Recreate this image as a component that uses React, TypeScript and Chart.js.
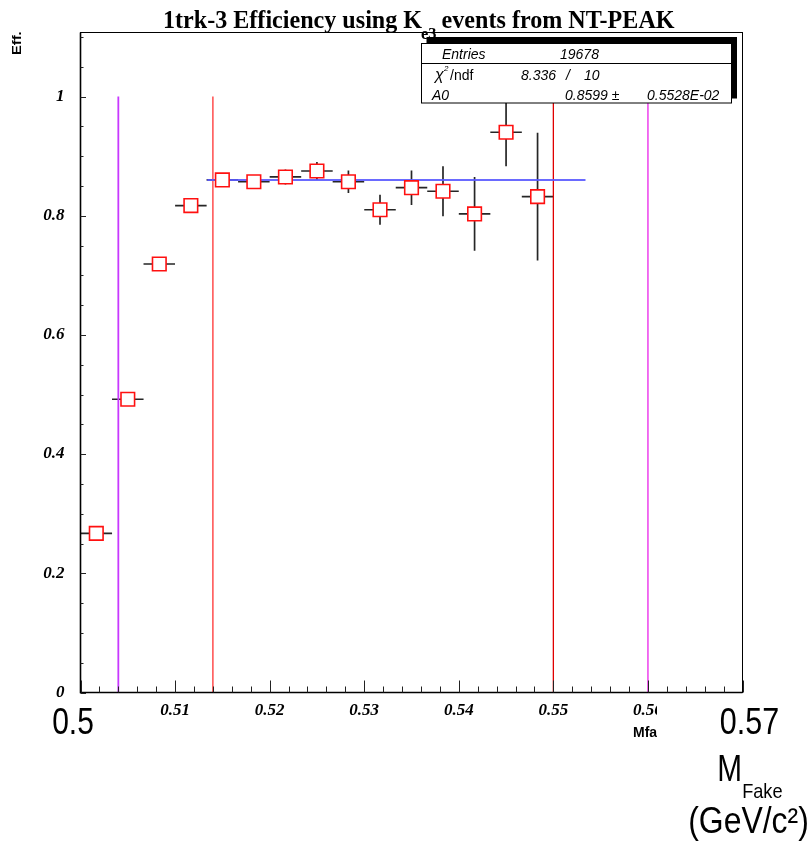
import React, { useEffect, useRef } from 'react';
import { Chart, registerables } from 'chart.js';

Chart.register(...registerables);

// ---- data ----
const massCenters = [0.50167, 0.505, 0.50833, 0.51167, 0.515, 0.51833, 0.52167, 0.525, 0.52833, 0.53167, 0.535, 0.53833, 0.54167, 0.545, 0.54833];
const efficiency = [0.267, 0.492, 0.719, 0.817, 0.860, 0.857, 0.865, 0.875, 0.857, 0.810, 0.847, 0.841, 0.803, 0.940, 0.832];
const effErrors = [0.004, 0.005, 0.005, 0.005, 0.006, 0.006, 0.0126, 0.015, 0.019, 0.025, 0.029, 0.042, 0.062, 0.057, 0.107];
const massHalfBins = [0.001667, 0.001667, 0.001667, 0.001667, 0.001667, 0.001667, 0.001667, 0.001667, 0.001667, 0.001667, 0.001667, 0.001667, 0.001667, 0.001667, 0.001667];
const fitRange = [0.5134, 0.5534];
const fitValue = 0.8599;
const cutPositions = [0.504, 0.514, 0.55, 0.56];
const cutColors = ['#c838ff', '#ff3030', '#e00000', '#f060f0'];
const cutWidths = [1.8, 1.3, 1.3, 1.8];
const cutRange = [0, 1];
const xTickLabels = ['0.51', '0.52', '0.53', '0.54', '0.55', '0.56'];
const yTickLabels = ['0', '0.2', '0.4', '0.6', '0.8', '1'];
const xMin = 0.5;
const xMax = 0.57;
const yMin = 0;
const yMax = 1.1074;
const xMinorStep = 0.002;
const xMajorEvery = 5;
const yMinorStep = 0.05;
const yMajorEvery = 4;
const statsEntries = '19678';
const statsChi2 = '8.336';
const statsNdf = '10';
const statsA0 = '0.8599';
const statsA0Err = '0.5528E-02';

function drawFit(ctx: CanvasRenderingContext2D, text: string, font: string, inkLeft: number, inkRight: number, baseline: number) {
  ctx.save();
  ctx.font = font;
  ctx.textAlign = 'left';
  ctx.textBaseline = 'alphabetic';
  const m = ctx.measureText(text);
  const ink = m.actualBoundingBoxLeft + m.actualBoundingBoxRight;
  const sx = (inkRight - inkLeft) / ink;
  ctx.translate(inkLeft, baseline);
  ctx.scale(sx, 1);
  ctx.fillText(text, m.actualBoundingBoxLeft, 0);
  ctx.restore();
}

const decorPlugin = {
  id: 'decor',
  beforeDraw(chart: any) {
    const { ctx } = chart;
    ctx.save();
    ctx.fillStyle = '#ffffff';
    ctx.fillRect(0, 0, chart.width, chart.height);
    ctx.restore();
  },
  beforeDatasetsDraw(chart: any) {
    const { ctx, chartArea, scales } = chart;
    const x = scales.x;
    const y = scales.y;
    ctx.save();
    ctx.beginPath();
    ctx.rect(chartArea.left, chartArea.top, chartArea.right - chartArea.left, chartArea.bottom - chartArea.top);
    ctx.clip();
    ctx.strokeStyle = '#262626';
    ctx.lineWidth = 1.7;
    massCenters.forEach((m, i) => {
      const px = x.getPixelForValue(m);
      const py = y.getPixelForValue(efficiency[i]);
      const x0 = x.getPixelForValue(m - massHalfBins[i]);
      const x1 = x.getPixelForValue(m + massHalfBins[i]);
      const y0 = y.getPixelForValue(efficiency[i] - effErrors[i]);
      const y1 = y.getPixelForValue(efficiency[i] + effErrors[i]);
      ctx.beginPath();
      ctx.moveTo(x0, py);
      ctx.lineTo(x1, py);
      ctx.moveTo(px, y0);
      ctx.lineTo(px, y1);
      ctx.stroke();
    });
    ctx.restore();
  },
  afterDraw(chart: any) {
    const { ctx, chartArea, scales } = chart;
    const x = scales.x;
    const y = scales.y;
    const L = chartArea.left, R = chartArea.right, T = chartArea.top, B = chartArea.bottom;
    ctx.save();
    // frame
    ctx.strokeStyle = '#000';
    ctx.lineWidth = 1;
    ctx.strokeRect(L, T, R - L, B - T);
    ctx.lineWidth = 1.6;
    ctx.beginPath();
    ctx.moveTo(L, T);
    ctx.lineTo(L, B);
    ctx.lineTo(R, B);
    ctx.stroke();

    // ticks
    ctx.lineWidth = 1;
    ctx.strokeStyle = '#222';
    for (let i = 0; yMin + i * yMinorStep <= yMax + 1e-9; i++) {
      const v = yMin + i * yMinorStep;
      const py = Math.round(y.getPixelForValue(v)) + 0.5;
      const len = i % yMajorEvery === 0 ? 5.5 : 3;
      ctx.beginPath();
      ctx.moveTo(L, py);
      ctx.lineTo(L + len, py);
      ctx.stroke();
    }
    for (let i = 0; xMin + i * xMinorStep <= xMax + 1e-9; i++) {
      const v = xMin + i * xMinorStep;
      const px = Math.round(x.getPixelForValue(v)) + 0.5;
      const len = i % xMajorEvery === 0 ? 12 : 6;
      ctx.beginPath();
      ctx.moveTo(px, B);
      ctx.lineTo(px, B - len);
      ctx.stroke();
    }

    // stats box
    const bx0 = 421.5, bx1 = 731.5, by0 = 43.5, by1 = 103;
    ctx.fillStyle = '#000';
    ctx.fillRect(426.5, 37, 310.5, 61.5);
    ctx.fillStyle = '#fff';
    ctx.fillRect(bx0, by0, bx1 - bx0, by1 - by0);
    ctx.strokeStyle = '#000';
    ctx.lineWidth = 1;
    ctx.strokeRect(bx0, by0, bx1 - bx0, by1 - by0);
    ctx.beginPath();
    ctx.moveTo(bx0, 63.5);
    ctx.lineTo(bx1, 63.5);
    ctx.stroke();

    ctx.fillStyle = '#000';
    ctx.textBaseline = 'alphabetic';
    ctx.textAlign = 'left';
    ctx.font = 'italic 14px "Liberation Sans"';
    ctx.fillText('Entries', 442, 58.5);
    ctx.fillText(statsEntries, 560, 58.5);
    ctx.font = 'italic 16px "Liberation Sans"';
    ctx.fillText('χ', 435, 80);
    ctx.font = 'italic 8px "Liberation Sans"';
    ctx.fillText('2', 444, 71);
    ctx.font = '14px "Liberation Sans"';
    ctx.fillText('/ndf', 450, 79.5);
    ctx.font = 'italic 14px "Liberation Sans"';
    ctx.fillText(statsChi2, 521, 79.5);
    ctx.fillText('/', 566, 79.5);
    ctx.fillText(statsNdf, 584, 79.5);
    ctx.fillText('A0', 432, 99.5);
    ctx.fillText(statsA0 + ' ±', 565, 99.5);
    ctx.fillText(statsA0Err, 647, 99.5);

    // title
    ctx.font = 'bold 25px "Liberation Serif"';
    const s1 = '1trk-3 Efficiency using K';
    const s2 = ' events from NT-PEAK';
    const w1 = ctx.measureText(s1).width;
    const w2 = ctx.measureText(s2).actualBoundingBoxRight;
    ctx.font = 'bold 17px "Liberation Serif"';
    const wsub = ctx.measureText('e3').width;
    const sx = 514 / (w1 + wsub + w2);
    ctx.save();
    ctx.translate(163, 28.3);
    ctx.scale(sx, 1);
    ctx.font = 'bold 25px "Liberation Serif"';
    ctx.fillText(s1, 0, 0);
    ctx.font = 'bold 17px "Liberation Serif"';
    ctx.fillText('e3', w1 - 1, 11);
    ctx.font = 'bold 25px "Liberation Serif"';
    ctx.fillText(s2, w1 + wsub - 2, 0);
    ctx.restore();

    // y-axis title
    ctx.save();
    ctx.translate(20.5, 55);
    ctx.rotate(-Math.PI / 2);
    drawFit(ctx, 'Eff.', 'bold 13px "Liberation Sans"', 0, 23, 0);
    ctx.restore();

    // x-axis small title (clipped) and cover
    ctx.font = 'bold 14px "Liberation Sans"';
    ctx.fillText('Mfake', 633, 737);
    ctx.fillStyle = '#fff';
    ctx.fillRect(657, 697, 60, 52);
    ctx.fillStyle = '#000';

    // big labels
    drawFit(ctx, '0.5', '36px "Liberation Sans"', 53, 93, 734);
    drawFit(ctx, '0.57', '36px "Liberation Sans"', 720.7, 778.3, 734);
    drawFit(ctx, 'M', '36px "Liberation Sans"', 719, 740.5, 781);
    drawFit(ctx, 'Fake', '21px "Liberation Sans"', 743, 782, 798);
    drawFit(ctx, '(GeV/c²)', '36px "Liberation Sans"', 690, 807, 833);
    ctx.restore();
  },
};

function matchLabel(labels: string[], value: number) {
  for (const l of labels) {
    if (Math.abs(parseFloat(l) - value) < 1e-6) return l;
  }
  return '';
}

export default function App() {
  const canvasRef = useRef<HTMLCanvasElement | null>(null);

  useEffect(() => {
    const canvas = canvasRef.current;
    if (!canvas) return;
    const points = massCenters.map((m, i) => ({ x: m, y: efficiency[i] }));
    const cutDatasets = cutPositions.map((c, i) => ({
      data: [{ x: c, y: cutRange[0] }, { x: c, y: cutRange[1] }],
      showLine: true,
      borderColor: cutColors[i],
      borderWidth: cutWidths[i],
      pointRadius: 0,
      fill: false,
    }));
    const chart = new Chart(canvas, {
      type: 'scatter',
      data: {
        datasets: [
          {
            data: points,
            showLine: false,
            pointStyle: 'rect',
            pointRadius: 9.6,
            pointBorderWidth: 1.6,
            pointBorderColor: '#ff1010',
            pointBackgroundColor: '#ffffff',
            borderColor: '#ff1010',
            backgroundColor: '#ffffff',
          },
          {
            data: [{ x: fitRange[0], y: fitValue }, { x: fitRange[1], y: fitValue }],
            showLine: true,
            borderColor: 'rgba(90,90,255,0.9)',
            borderWidth: 2,
            pointRadius: 0,
            fill: false,
          },
          ...cutDatasets,
        ] as any,
      },
      options: {
        animation: false,
        responsive: false,
        devicePixelRatio: 1,
        layout: { padding: { left: 0, top: 32.5, right: 69.5, bottom: 0 } },
        plugins: {
          legend: { display: false },
          title: { display: false },
          tooltip: { enabled: false },
        },
        scales: {
          x: {
            type: 'linear',
            min: xMin,
            max: xMax,
            grid: { display: false, drawTicks: false },
            border: { display: false },
            afterFit: (s: any) => { s.height = 150.5; },
            ticks: {
              stepSize: 0.01,
              autoSkip: false,
              maxRotation: 0,
              padding: 8,
              color: '#000',
              font: { family: 'Liberation Serif', size: 17, style: 'italic', weight: 'bold' },
              callback: (v: any) => matchLabel(xTickLabels, Number(v)),
            },
          },
          y: {
            type: 'linear',
            min: yMin,
            max: yMax,
            grid: { display: false, drawTicks: false },
            border: { display: false },
            afterFit: (s: any) => { s.width = 80.5; },
            ticks: {
              stepSize: 0.2,
              autoSkip: false,
              padding: 16,
              color: '#000',
              font: { family: 'Liberation Serif', size: 17, style: 'italic', weight: 'bold' },
              callback: (v: any) => matchLabel(yTickLabels, Number(v)),
            },
          },
        },
      } as any,
      plugins: [decorPlugin],
    });
    return () => chart.destroy();
  }, []);

  return (
    <div style={{ position: 'fixed', left: 0, top: 0, width: 812, height: 843, background: '#fff' }}>
      <canvas ref={canvasRef} width={812} height={843} style={{ width: 812, height: 843, display: 'block' }} />
    </div>
  );
}
